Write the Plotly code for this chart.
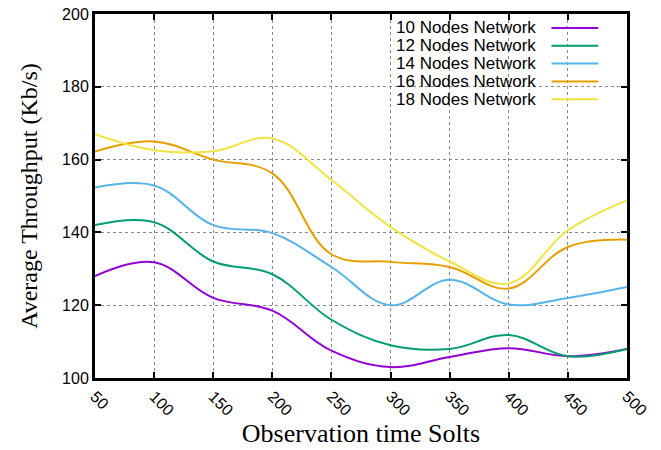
import plotly.graph_objects as go

slots = [50, 100, 150, 200, 250, 300, 350, 400, 450, 500]
names = ["10 Nodes Network", "12 Nodes Network", "14 Nodes Network",
         "16 Nodes Network", "18 Nodes Network"]
n10 = [128, 131.8, 122, 118.5, 107.5, 103, 105.8, 108.2, 106, 108]
n12 = [142, 142.8, 132, 128.5, 116, 109, 108, 111.8, 106, 108]
n14 = [152.3, 152.9, 142, 139.8, 130.5, 120, 127, 120.2, 122, 125]
n16 = [162.2, 165, 160, 156.2, 134, 131.9, 130.5, 124.6, 136, 138]
n18 = [167, 162.6, 162.3, 165.8, 154.4, 141.5, 132, 126, 140.6, 148.8]
series = [n10, n12, n14, n16, n18]
colors = ["#9400d3", "#009e73", "#56b4e9", "#e69f00", "#f0e442"]

fig = go.Figure()
for name, vals, c in zip(names, series, colors):
    fig.add_trace(go.Scatter(x=slots, y=vals, mode="lines", name=name,
                             line=dict(color=c, width=2, shape="spline", smoothing=1.1),
                             showlegend=False))

# custom legend (text right-aligned, line sample on the right), white box
fig.add_shape(type="rect", xref="paper", yref="paper", x0=0.54, x1=0.995,
              y0=0.745, y1=0.995, fillcolor="white", line=dict(width=0), layer="below")
for i, (name, c) in enumerate(zip(names, colors)):
    yp = 1 - (14 + 17.8 * i) / 364.0
    fig.add_annotation(xref="paper", yref="paper", x=0.832, y=yp, text=name,
                       showarrow=False, xanchor="right", yanchor="middle",
                       font=dict(family="Liberation Sans", size=17, color="black"))
    fig.add_shape(type="line", xref="paper", yref="paper", x0=0.858, x1=0.946,
                  y0=yp, y1=yp, line=dict(color=c, width=2))

axis_common = dict(showline=True, linewidth=3, linecolor="black", mirror="ticks",
                   ticks="inside", ticklen=6, tickwidth=1.5, tickcolor="black",
                   showgrid=True, gridcolor="#888888", griddash="dot", gridwidth=1,
                   zeroline=False, automargin=False,
                   tickfont=dict(family="Liberation Sans", size=16, color="black"))

fig.update_xaxes(range=[50, 500], tickvals=slots, tickangle=45,
                 title=dict(text="Observation time Solts", standoff=6,
                            font=dict(family="Liberation Serif", size=26, color="black")),
                 **axis_common)
fig.update_yaxes(range=[100, 200], tickvals=[100, 120, 140, 160, 180, 200],
                 title=dict(text="Average Throughput (Kb/s)", standoff=18,
                            font=dict(family="Liberation Serif", size=24, color="black")),
                 **axis_common)

fig.update_layout(width=661, height=450, margin=dict(l=95, r=34, t=14, b=72),
                  plot_bgcolor="white", paper_bgcolor="white")
fig.write_html("out.html")
